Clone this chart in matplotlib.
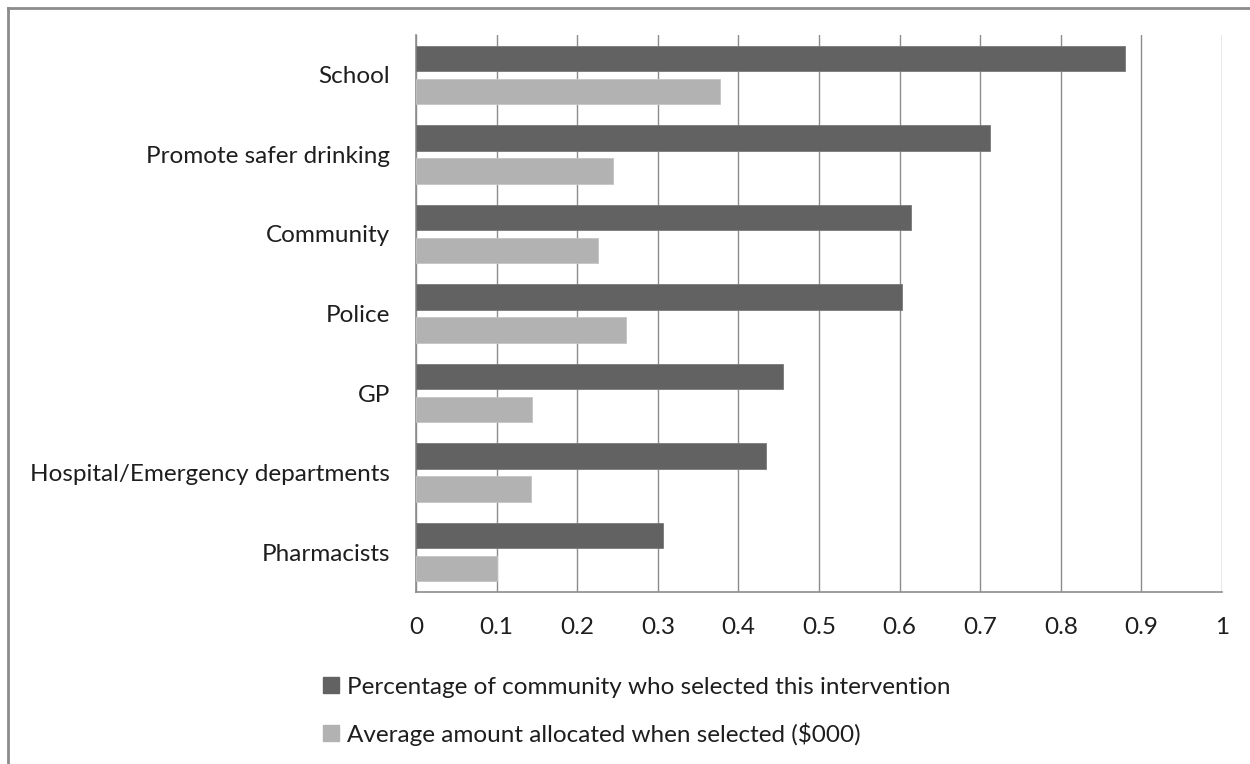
import numpy as np
import matplotlib
matplotlib.use('Agg')
import matplotlib.pyplot as plt
from matplotlib.patches import Patch
from matplotlib.lines import Line2D

categories = ['School', 'Promote safer drinking', 'Community', 'Police', 'GP',
              'Hospital/Emergency departments', 'Pharmacists']
pct_selected = [0.880, 0.712, 0.614, 0.603, 0.455, 0.434, 0.307]
avg_amount = [0.377, 0.245, 0.226, 0.260, 0.144, 0.143, 0.100]
series_names = ['Percentage of community who selected this intervention',
                'Average amount allocated when selected ($000)']
xticks = [0, 0.1, 0.2, 0.3, 0.4, 0.5, 0.6, 0.7, 0.8, 0.9, 1]
xticklabels = ['0', '0.1', '0.2', '0.3', '0.4', '0.5', '0.6', '0.7', '0.8', '0.9', '1']

DARK, LIGHT, GRID = '#626262', '#b2b2b2', '#8c8c8c'
TXT = '#1e1e1e'
plt.rcParams['font.family'] = ['Lato', 'DejaVu Sans']
FS = 17.5

W, H = 1250, 764
fig = plt.figure(figsize=(W / 100, H / 100), dpi=100)
ax = fig.add_axes([416 / W, 1 - 592 / H, (1222 - 416) / W, (592 - 35) / H])

y = np.arange(len(categories))
h, off = 0.32, 0.208
ax.barh(y - off, pct_selected, height=h, color=DARK, edgecolor='#7a7a7a', lw=0.6, zorder=3)
ax.barh(y + off, avg_amount, height=h, color=LIGHT, edgecolor='#c4c4c4', lw=0.6, zorder=3)

ax.set_xlim(0, 1)
ax.set_ylim(len(categories) - 0.5, -0.5)
ax.set_xticks(xticks)
ax.set_xticklabels(xticklabels, fontsize=FS, color=TXT)
ax.set_yticks(y)
ax.set_yticklabels(categories, fontsize=FS, color=TXT)
ax.tick_params(axis='x', length=0, pad=18)
ax.tick_params(axis='y', length=0, pad=18.5)
ax.grid(axis='x', color=GRID, lw=1, zorder=0)
for s in ['top', 'right']:
    ax.spines[s].set_visible(False)
for s in ['left', 'bottom']:
    ax.spines[s].set_color(GRID)
    ax.spines[s].set_linewidth(1.2)

handles = [Patch(facecolor=DARK, edgecolor=DARK), Patch(facecolor=LIGHT, edgecolor=LIGHT)]
fig.legend(handles, series_names, loc='upper left', bbox_to_anchor=(301 / W, 1 - 655 / H),
           frameon=False, fontsize=FS, handlelength=0.65, handleheight=0.65,
           handletextpad=0.35, labelspacing=1.0, labelcolor=TXT)

# outer chart border (only top and left visible in the crop)
fig.add_artist(Line2D([8 / W, 8 / W], [0, 1 - 8 / H], color=GRID, lw=2))
fig.add_artist(Line2D([8 / W, 1], [1 - 8 / H, 1 - 8 / H], color=GRID, lw=2))

fig.savefig('out.png', dpi=100)
